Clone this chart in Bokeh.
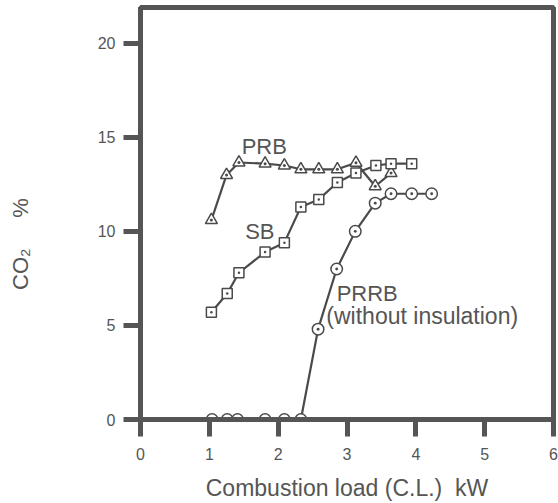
from bokeh.plotting import figure
from bokeh.models import Range1d, FixedTicker, Label
from bokeh.embed import file_html
from bokeh.resources import INLINE

# ---- data ----
prb_x = [1.03, 1.25, 1.43, 1.81, 2.09, 2.33, 2.59, 2.86, 3.13, 3.41, 3.64]
prb_y = [10.6, 13.0, 13.66, 13.6, 13.5, 13.3, 13.3, 13.3, 13.65, 12.4, 13.1]

sb_x = [1.03, 1.26, 1.43, 1.81, 2.09, 2.33, 2.59, 2.86, 3.13, 3.42, 3.64, 3.94]
sb_y = [5.7, 6.7, 7.8, 8.9, 9.4, 11.3, 11.7, 12.6, 13.1, 13.5, 13.6, 13.6]

prrb_x = [1.04, 1.26, 1.41, 1.81, 2.09, 2.33, 2.58, 2.85, 3.12, 3.41, 3.64, 3.94, 4.23]
prrb_y = [0.0, 0.0, 0.0, 0.0, 0.0, 0.0, 4.8, 8.0, 10.0, 11.5, 12.0, 12.0, 12.0]

x_ticks = [0, 1, 2, 3, 4, 5, 6]
y_ticks = [0, 5, 10, 15, 20]

GRAY = "#555555"
LINE = "#4a4a4a"
FONT = "Liberation Sans"
NB = "\u00a0"

p = figure(width=558, height=503, output_backend="svg", toolbar_location=None,
           x_range=Range1d(0, 6), y_range=Range1d(0, 21.9),
           min_border_left=140, min_border_right=5, min_border_top=7,
           min_border_bottom=83)
p.background_fill_color = "white"
p.border_fill_color = "white"
p.outline_line_color = GRAY
p.outline_line_width = 5
p.xgrid.visible = False
p.ygrid.visible = False

for ax in (p.xaxis[0], p.yaxis[0]):
    ax.axis_line_color = GRAY
    ax.axis_line_width = 5
    ax.major_tick_line_color = GRAY
    ax.major_tick_line_width = 5
    ax.major_tick_out = 17
    ax.major_tick_in = 0
    ax.minor_tick_line_color = None
    ax.major_label_text_font = FONT
    ax.major_label_text_font_size = "16px"
    ax.major_label_text_color = GRAY
    ax.axis_label_text_font = FONT
    ax.axis_label_text_font_style = "normal"
    ax.axis_label_text_color = GRAY

p.xaxis[0].ticker = FixedTicker(ticks=x_ticks)
p.yaxis[0].ticker = FixedTicker(ticks=y_ticks)
p.xaxis[0].major_label_standoff = 11
p.yaxis[0].major_label_standoff = 8
p.xaxis[0].axis_label = "Combustion load (C.L.)" + NB + NB + "kW"
p.xaxis[0].axis_label_text_font_size = "23px"
p.xaxis[0].axis_label_standoff = 12

# y-axis title; trailing no-break spaces shift the visible text downward
p.yaxis[0].axis_label = "CO\u2082" + NB * 5 + "%" + NB * 10
p.yaxis[0].axis_label_text_font_size = "22px"
p.yaxis[0].axis_label_standoff = 62

# series
p.line(prb_x, prb_y, line_color=LINE, line_width=2.2)
p.line(sb_x, sb_y, line_color=LINE, line_width=2.2)
p.line(prrb_x, prrb_y, line_color=LINE, line_width=2.2)

p.scatter(prb_x, prb_y, marker="triangle_dot", size=12, line_color=LINE,
          line_width=1.5, fill_color="white")
p.scatter(sb_x, sb_y, marker="square_dot", size=10, line_color=LINE,
          line_width=1.5, fill_color="white")
p.scatter(prrb_x, prrb_y, marker="circle_dot", size=11.5, line_color=LINE,
          line_width=1.5, fill_color="white")

# series annotations
def add_text(x, y, t, size="22px"):
    p.add_layout(Label(x=x, y=y, text=t, text_font=FONT, text_font_size=size,
                       text_color=GRAY, text_align="left",
                       text_baseline="alphabetic"))

add_text(1.47, 14.51, "PRB")
add_text(1.52, 10.0, "SB")
add_text(2.85, 6.70, "PRRB")
add_text(2.70, 5.48, "(without insulation)", size="23px")

open("out.html", "w").write(file_html(p, INLINE))
